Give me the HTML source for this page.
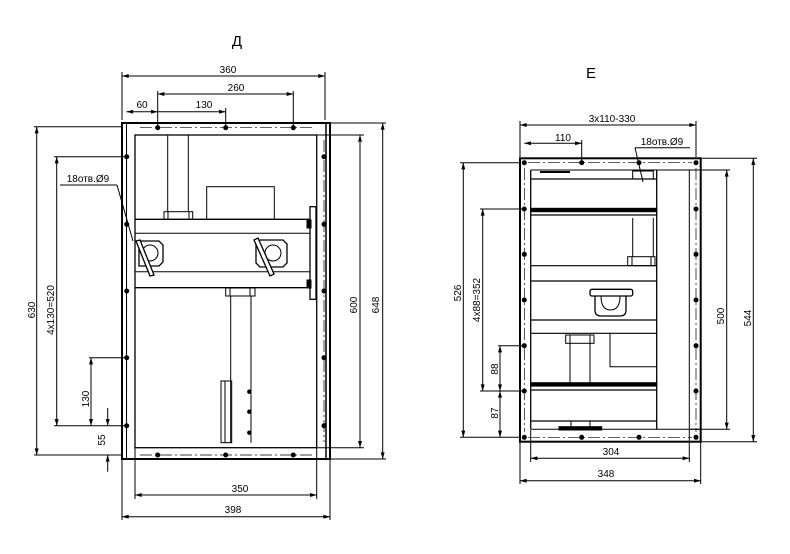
<!DOCTYPE html>
<html><head><meta charset="utf-8"><style>
html,body{margin:0;padding:0;background:#fff}
svg{display:block}
text{font-family:"Liberation Sans","DejaVu Sans",sans-serif;font-size:10px;fill:#000}
</style></head><body>
<svg width="790" height="554" viewBox="0 0 790 554" xmlns="http://www.w3.org/2000/svg">
<defs>
<marker id="a" viewBox="0 0 10 6" refX="10" refY="3" markerWidth="7" markerHeight="4" orient="auto-start-reverse" markerUnits="userSpaceOnUse"><path d="M0,0L10,3L0,6z" fill="#000"/></marker>
</defs>
<g stroke="#000" fill="none" stroke-width="1">
<!-- ===== LEFT VIEW Д ===== -->
<rect x="122" y="123" width="208" height="336" stroke-width="2"/>
<line x1="126.5" y1="123" x2="126.5" y2="459"/>
<line x1="326" y1="123" x2="326" y2="459" stroke-width="1.5"/>
<rect x="135" y="135" width="181.7" height="312.7" stroke-width="1.3"/>
<!-- centerlines -->
<g stroke-dasharray="12,3,2,3" stroke-width="0.7">
<line x1="140" y1="127.7" x2="312" y2="127.7"/>
<line x1="140" y1="455" x2="312" y2="455"/>
<line x1="126.7" y1="140" x2="126.7" y2="442"/>
<line x1="324" y1="140" x2="324" y2="442"/>
</g>
<!-- shaft top -->
<line x1="167.7" y1="135" x2="167.7" y2="211.7"/>
<line x1="188.3" y1="135" x2="188.3" y2="211.7"/>
<rect x="164" y="211.7" width="28.7" height="7.6"/>
<line x1="168" y1="211.7" x2="168" y2="219.3"/><line x1="189" y1="211.7" x2="189" y2="219.3"/>
<rect x="206.7" y="186.7" width="67.6" height="32.6"/>
<!-- beam -->
<line x1="135" y1="219.3" x2="310" y2="219.3" stroke-width="1.3"/>
<line x1="135" y1="233.3" x2="310" y2="233.3"/>
<line x1="135" y1="271.7" x2="310" y2="271.7"/>
<line x1="135" y1="287.7" x2="310" y2="287.7" stroke-width="1.3"/>
<rect x="310" y="206.7" width="6" height="92.6" stroke-width="1.3"/>
<rect x="307" y="220" width="4" height="8" fill="#000"/>
<rect x="307" y="280" width="4" height="8" fill="#000"/>
<!-- handles -->
<path d="M139,241 L159,241 L163,245 L163,262 L159,266 L139,266 Z" stroke-width="1.3"/>
<circle cx="150" cy="253" r="8"/>
<path d="M136,241 L150,276 L154,275 L140,240 Z" fill="#fff" stroke-width="1.3"/>
<path d="M260,240 L283,240 L287,244 L287,263 L283,267 L260,267 L256,263 L256,244 Z" stroke-width="1.3"/>
<circle cx="273" cy="253" r="8"/>
<path d="M254,240 L270,276 L274,274 L258,238 Z" fill="#fff" stroke-width="1.3"/>
<!-- shaft bottom -->
<rect x="225.7" y="288" width="29.3" height="8"/>
<line x1="230" y1="288" x2="230" y2="296"/><line x1="250" y1="288" x2="250" y2="296"/>
<line x1="230.7" y1="296" x2="230.7" y2="442.7"/>
<line x1="251" y1="296" x2="251" y2="442.7"/>
<rect x="221" y="381" width="10.7" height="61.7"/>
<line x1="225" y1="381" x2="225" y2="442.7"/>
<!-- dimensions left view -->
<line x1="122" y1="120" x2="122" y2="72"/><line x1="325" y1="120" x2="325" y2="72"/>
<line x1="122" y1="76" x2="325" y2="76" marker-start="url(#a)" marker-end="url(#a)"/>
<line x1="157.7" y1="126" x2="157.7" y2="91"/><line x1="293.3" y1="126" x2="293.3" y2="91"/>
<line x1="157.7" y1="94" x2="293.3" y2="94" marker-start="url(#a)" marker-end="url(#a)"/>
<line x1="225.7" y1="126" x2="225.7" y2="108"/>
<line x1="126.5" y1="111.7" x2="157.7" y2="111.7" marker-start="url(#a)" marker-end="url(#a)"/>
<line x1="157.7" y1="111.7" x2="225.7" y2="111.7" marker-end="url(#a)"/>
<!-- left vertical dims -->
<line x1="34" y1="126.7" x2="122" y2="126.7"/><line x1="34" y1="455" x2="122" y2="455"/>
<line x1="36.7" y1="126.7" x2="36.7" y2="455" marker-start="url(#a)" marker-end="url(#a)"/>
<line x1="54" y1="156.7" x2="126" y2="156.7"/><line x1="54" y1="425.7" x2="126" y2="425.7"/>
<line x1="56.7" y1="156.7" x2="56.7" y2="425.7" marker-start="url(#a)" marker-end="url(#a)"/>
<line x1="89" y1="357.7" x2="126" y2="357.7"/>
<line x1="91" y1="357.7" x2="91" y2="425.7" marker-start="url(#a)" marker-end="url(#a)"/>
<line x1="107.7" y1="408" x2="107.7" y2="425.7" marker-end="url(#a)"/>
<line x1="107.7" y1="471.7" x2="107.7" y2="455" marker-end="url(#a)"/>
<!-- leader -->
<line x1="60" y1="185" x2="117" y2="185"/>
<line x1="117" y1="185" x2="133" y2="241"/>
<!-- right dims -->
<line x1="316.7" y1="135" x2="364" y2="135"/><line x1="316.7" y1="447.7" x2="364" y2="447.7"/>
<line x1="360" y1="135" x2="360" y2="447.7" marker-start="url(#a)" marker-end="url(#a)"/>
<line x1="330" y1="123" x2="386" y2="123"/><line x1="330" y1="459" x2="386" y2="459"/>
<line x1="382.7" y1="123" x2="382.7" y2="459" marker-start="url(#a)" marker-end="url(#a)"/>
<!-- bottom dims -->
<line x1="135" y1="448" x2="135" y2="499"/><line x1="316.7" y1="448" x2="316.7" y2="499"/>
<line x1="135" y1="495" x2="316.7" y2="495" marker-start="url(#a)" marker-end="url(#a)"/>
<line x1="122" y1="460" x2="122" y2="520"/><line x1="330" y1="460" x2="330" y2="520"/>
<line x1="122" y1="516.7" x2="330" y2="516.7" marker-start="url(#a)" marker-end="url(#a)"/>

<!-- ===== RIGHT VIEW Е ===== -->
<rect x="520" y="158.3" width="180.7" height="283.4" stroke-width="2"/>
<line x1="530.7" y1="170" x2="530.7" y2="429.3" stroke-width="1.3"/>
<line x1="689.3" y1="170" x2="689.3" y2="429.3"/>
<line x1="656.7" y1="170" x2="656.7" y2="429.3" stroke-width="1.3"/>
<line x1="530.7" y1="170" x2="700" y2="170"/>
<line x1="530.7" y1="429.3" x2="700" y2="429.3"/>
<g stroke-dasharray="12,3,2,3" stroke-width="0.7">
<line x1="528" y1="162.7" x2="692" y2="162.7"/>
<line x1="528" y1="437.3" x2="692" y2="437.3"/>
<line x1="524.3" y1="168" x2="524.3" y2="432"/>
<line x1="696" y1="168" x2="696" y2="432"/>
</g>
<g stroke-width="1.2">
<line x1="530.7" y1="179" x2="656.7" y2="179"/>
<line x1="530.7" y1="215" x2="656.7" y2="215"/>
<line x1="530.7" y1="265.7" x2="656.7" y2="265.7"/>
<line x1="530.7" y1="281" x2="656.7" y2="281"/>
<line x1="530.7" y1="320" x2="656.7" y2="320"/>
<line x1="530.7" y1="333.3" x2="656.7" y2="333.3"/>
<line x1="530.7" y1="390" x2="656.7" y2="390"/>
<line x1="530.7" y1="421" x2="656.7" y2="421"/>
</g>
<rect x="530.7" y="208.3" width="126" height="3.4" fill="#000"/>
<rect x="530.7" y="382.7" width="126" height="3.4" fill="#000"/>
<rect x="632.7" y="171" width="20.6" height="8"/>
<line x1="540" y1="172" x2="570" y2="172" stroke-width="2"/>
<line x1="632.7" y1="218" x2="632.7" y2="256.7"/><line x1="653.3" y1="218" x2="653.3" y2="256.7"/>
<rect x="627.7" y="256.7" width="27.3" height="9"/>
<line x1="632" y1="256.7" x2="632" y2="265.7"/><line x1="651" y1="256.7" x2="651" y2="265.7"/>
<rect x="590" y="289.3" width="42.7" height="6.7" rx="2" stroke-width="1.3"/>
<path d="M595,296 L595,310 Q595,316 601,316 L620,316 Q626,316 626,310 L626,296" stroke-width="1.3"/>
<path d="M601,296 Q601,310 610.5,310 Q620,310 620,296"/>
<rect x="565.7" y="335" width="28.3" height="8.3"/>
<line x1="570" y1="335" x2="570" y2="343.3"/><line x1="590" y1="335" x2="590" y2="343.3"/>
<line x1="570" y1="343.3" x2="570" y2="382.7"/><line x1="590" y1="343.3" x2="590" y2="382.7"/>
<path d="M610,333.3 L610,366.7 L656.7,366.7"/>
<line x1="571" y1="421" x2="571" y2="427"/><line x1="590" y1="421" x2="590" y2="427"/>
<rect x="559" y="426.7" width="42.7" height="3.3" fill="#000"/>
<!-- dims right view -->
<line x1="520" y1="157" x2="520" y2="121"/><line x1="696" y1="157" x2="696" y2="121"/>
<line x1="520" y1="125" x2="696" y2="125" marker-start="url(#a)" marker-end="url(#a)"/>
<line x1="581.7" y1="162" x2="581.7" y2="140"/>
<line x1="524.3" y1="143.3" x2="581.7" y2="143.3" marker-start="url(#a)" marker-end="url(#a)"/>
<line x1="635" y1="147.7" x2="690" y2="147.7"/>
<line x1="635" y1="147.7" x2="643" y2="182"/>
<line x1="460" y1="162.7" x2="520" y2="162.7"/><line x1="460" y1="437.3" x2="520" y2="437.3"/>
<line x1="463.3" y1="162.7" x2="463.3" y2="437.3" marker-start="url(#a)" marker-end="url(#a)"/>
<line x1="480" y1="209" x2="524" y2="209"/><line x1="480" y1="391" x2="524" y2="391"/>
<line x1="482.7" y1="209" x2="482.7" y2="391" marker-start="url(#a)" marker-end="url(#a)"/>
<line x1="498" y1="345.7" x2="524" y2="345.7"/>
<line x1="500" y1="345.7" x2="500" y2="391" marker-start="url(#a)" marker-end="url(#a)"/>
<line x1="500" y1="391" x2="500" y2="437.3" marker-start="url(#a)" marker-end="url(#a)"/>
<line x1="689.3" y1="170" x2="730" y2="170"/><line x1="689.3" y1="429.3" x2="730" y2="429.3"/>
<line x1="726.7" y1="170" x2="726.7" y2="429.3" marker-start="url(#a)" marker-end="url(#a)"/>
<line x1="700" y1="158.3" x2="757" y2="158.3"/><line x1="700" y1="441.7" x2="757" y2="441.7"/>
<line x1="753.3" y1="158.3" x2="753.3" y2="441.7" marker-start="url(#a)" marker-end="url(#a)"/>
<line x1="530.7" y1="430" x2="530.7" y2="462"/><line x1="689.3" y1="430" x2="689.3" y2="462"/>
<line x1="530.7" y1="458.3" x2="689.3" y2="458.3" marker-start="url(#a)" marker-end="url(#a)"/>
<line x1="520" y1="442" x2="520" y2="484"/><line x1="700.7" y1="442" x2="700.7" y2="484"/>
<line x1="520" y1="480.7" x2="700.7" y2="480.7" marker-start="url(#a)" marker-end="url(#a)"/>
</g>
<!-- holes -->
<g fill="#000">
<circle cx="157.7" cy="127.7" r="2.5"/><circle cx="225.7" cy="127.7" r="2.5"/><circle cx="293.3" cy="127.7" r="2.5"/>
<circle cx="157.7" cy="455" r="2.5"/><circle cx="225.7" cy="455" r="2.5"/><circle cx="293.3" cy="455" r="2.5"/>
<circle cx="126.7" cy="156.7" r="2.5"/><circle cx="126.7" cy="224.3" r="2.5"/><circle cx="126.7" cy="291" r="2.5"/><circle cx="126.7" cy="357.7" r="2.5"/><circle cx="126.7" cy="425.7" r="2.5"/>
<circle cx="324" cy="156.7" r="2.5"/><circle cx="324" cy="224.3" r="2.5"/><circle cx="324" cy="291" r="2.5"/><circle cx="324" cy="357.7" r="2.5"/><circle cx="324" cy="425.7" r="2.5"/>
<circle cx="249.3" cy="391.7" r="2.2"/><circle cx="249.3" cy="411.7" r="2.2"/><circle cx="249.3" cy="432.7" r="2.2"/>
<circle cx="524.3" cy="162.7" r="2.5"/><circle cx="581.7" cy="162.7" r="2.5"/><circle cx="639" cy="162.7" r="2.5"/><circle cx="696" cy="162.7" r="2.5"/>
<circle cx="524.3" cy="437.3" r="2.5"/><circle cx="581.7" cy="437.3" r="2.5"/><circle cx="639" cy="437.3" r="2.5"/><circle cx="696" cy="437.3" r="2.5"/>
<circle cx="524.3" cy="209" r="2.5"/><circle cx="524.3" cy="254.3" r="2.5"/><circle cx="524.3" cy="300" r="2.5"/><circle cx="524.3" cy="345.7" r="2.5"/><circle cx="524.3" cy="391" r="2.5"/>
<circle cx="696" cy="209" r="2.5"/><circle cx="696" cy="254.3" r="2.5"/><circle cx="696" cy="300" r="2.5"/><circle cx="696" cy="345.7" r="2.5"/><circle cx="696" cy="391" r="2.5"/>
</g>
<!-- texts -->
<text x="237" y="46" text-anchor="middle" style="font-size:15px">Д</text>
<text x="591" y="78" text-anchor="middle" style="font-size:15px">Е</text>
<g text-anchor="middle">
<text x="228" y="73">360</text>
<text x="236" y="91">260</text>
<text x="142" y="108">60</text>
<text x="204" y="108">130</text>
<text x="88" y="182">18отв.Ø9</text>
<text x="240" y="492">350</text>
<text x="233" y="513">398</text>
<text transform="translate(35,310) rotate(-90)">630</text>
<text transform="translate(54,310) rotate(-90)">4х130=520</text>
<text transform="translate(89,399) rotate(-90)">130</text>
<text transform="translate(105,440) rotate(-90)">55</text>
<text transform="translate(357,305) rotate(-90)">600</text>
<text transform="translate(379,305) rotate(-90)">648</text>
<text x="612" y="122">3х110-330</text>
<text x="563" y="141">110</text>
<text x="662" y="145">18отв.Ø9</text>
<text x="611" y="455">304</text>
<text x="606" y="477">348</text>
<text transform="translate(461,293) rotate(-90)">526</text>
<text transform="translate(480,300) rotate(-90)">4х88=352</text>
<text transform="translate(498,369) rotate(-90)">88</text>
<text transform="translate(498,413) rotate(-90)">87</text>
<text transform="translate(724,316) rotate(-90)">500</text>
<text transform="translate(751,318) rotate(-90)">544</text>
</g>
</svg>
</body></html>
